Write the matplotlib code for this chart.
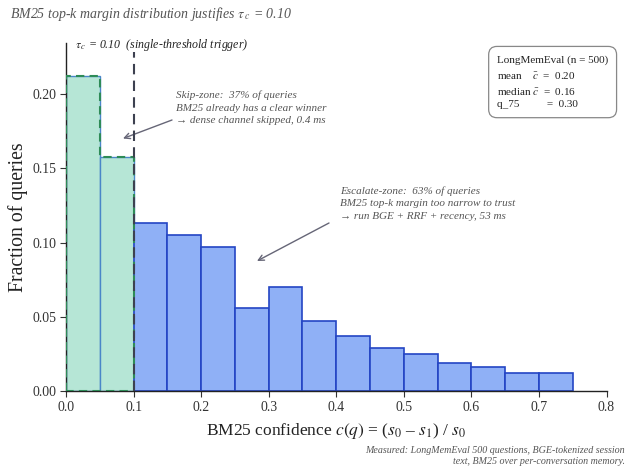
import matplotlib
matplotlib.use("Agg")
import matplotlib.pyplot as plt
import numpy as np

plt.rcParams['font.family'] = ['Liberation Serif', 'DejaVu Serif']
plt.rcParams['mathtext.fontset'] = 'stix'

# ---- data ----
skip_edges = [0.0, 0.05, 0.10]
skip_frac = [0.212, 0.158]
esc_edges = [0.10, 0.15, 0.20, 0.25, 0.30, 0.35, 0.40, 0.45, 0.50, 0.55, 0.60, 0.65, 0.70, 0.75]
esc_frac = [0.113, 0.105, 0.097, 0.056, 0.070, 0.047, 0.037, 0.029, 0.025, 0.019, 0.016, 0.012, 0.012]
tau_c = 0.10
x_ticks = [0.0, 0.1, 0.2, 0.3, 0.4, 0.5, 0.6, 0.7, 0.8]
y_ticks = [0.00, 0.05, 0.10, 0.15, 0.20]
stats_lines = ["LongMemEval (n = 500)",
               "mean    $\\bar{c}$  =  0.20",
               "median $\\bar{c}$  =  0.16",
               "q_75          =  0.30"]

W, H = 634, 470
fig = plt.figure(figsize=(W/100, H/100), dpi=100)
ax = fig.add_axes([66/W, 1-391/H, (606.5-66)/W, (391-43)/H])

# skip-zone bars
sw = np.diff(skip_edges)
ax.bar(skip_edges[:-1], skip_frac, width=sw, align='edge',
       color='#b6e6d6', edgecolor='#4a86c8', linewidth=1.0, zorder=2)
# dashed outline of skip zone
sx = [skip_edges[0]]
sy = [0]
for i, h in enumerate(skip_frac):
    sx += [skip_edges[i], skip_edges[i+1]]
    sy += [h, h]
sx += [skip_edges[-1], skip_edges[0]]
sy += [0, 0]
ax.plot(sx, sy, color='#2e8b57', linestyle=(0, (4, 2.5)), linewidth=1.5, zorder=3)

# escalate-zone bars
ew = np.diff(esc_edges)
ax.bar(esc_edges[:-1], esc_frac, width=ew, align='edge',
       color='#8fb0f6', edgecolor='#2445c4', linewidth=1.2, zorder=2)

# threshold line
ax.axvline(tau_c, ymin=0, ymax=(391-52)/348, color='#3d4150', linestyle=(0, (5, 3)),
           linewidth=1.5, zorder=4)
fig.text(75/W, 1-45/H, r"$\tau_{\,c}$ = 0.10  (single-threshold trigger)",
         fontsize=8.6, style='italic', color='#222222', ha='left', va='center')

ax.set_xlim(0, 0.8)
ax.set_ylim(0, 0.2345)
ax.set_xticks(x_ticks)
ax.set_xticklabels([f"{v:.1f}" for v in x_ticks])
ax.set_yticks(y_ticks)
ax.set_yticklabels([f"{v:.2f}" for v in y_ticks])
ax.tick_params(axis='both', labelsize=9.9, colors='#333333', length=4, direction='out', pad=3)
for s in ['top', 'right']:
    ax.spines[s].set_visible(False)
for s in ['left', 'bottom']:
    ax.spines[s].set_color('#222222')
    ax.spines[s].set_linewidth(1.0)

ax.set_ylabel("Fraction of queries", fontsize=14.2, color='#222222', labelpad=3)
ax.set_xlabel(r"BM25 confidence $c(q)$ = ($s_0$ – $s_1$) / $s_0$", fontsize=12.5, color='#222222', labelpad=5)

def px2data(px, py):
    x = (px - 66) / (606.5 - 66) * 0.8
    y = (391 - py) / 348 * 0.2345
    return x, y

# annotations
fig.text(176/W, 1-108/H, "Skip-zone:  37% of queries\nBM25 already has a clear winner\n→ dense channel skipped, 0.4 ms",
         fontsize=8.0, style='italic', color='#555555', va='center', ha='left', linespacing=1.5)
ax.annotate("", xy=px2data(123, 138.5), xytext=px2data(172, 120),
            arrowprops=dict(arrowstyle='->', color='#666677', lw=1.0, shrinkA=0, shrinkB=0))
fig.text(340/W, 1-203.5/H, "Escalate-zone:  63% of queries\nBM25 top-k margin too narrow to trust\n→ run BGE + RRF + recency, 53 ms",
         fontsize=8.0, style='italic', color='#555555', va='center', ha='left', linespacing=1.5)
ax.annotate("", xy=px2data(257, 261), xytext=px2data(329, 223),
            arrowprops=dict(arrowstyle='->', color='#666677', lw=1.0, shrinkA=0, shrinkB=0))

# stats box
fig.text(497/W, 1-55/H, "\n".join(stats_lines),
         fontsize=8.0, color='#222222', ha='left', va='top', linespacing=1.55,
         bbox=dict(boxstyle='round,pad=0.75', facecolor='white', edgecolor='#888888', linewidth=0.9))

fig.text(10/W, 1-14/H, r"BM25 top-k margin distribution justifies $\tau_{\,c}$ = 0.10",
         fontsize=10, style='italic', color='#555555', ha='left', va='center')
fig.text(625/W, 1-446/H, "Measured: LongMemEval 500 questions, BGE-tokenized session\ntext, BM25 over per-conversation memory.",
         fontsize=7.2, style='italic', color='#555555', ha='right', va='top', linespacing=1.3)

fig.savefig("out.png", dpi=100)
